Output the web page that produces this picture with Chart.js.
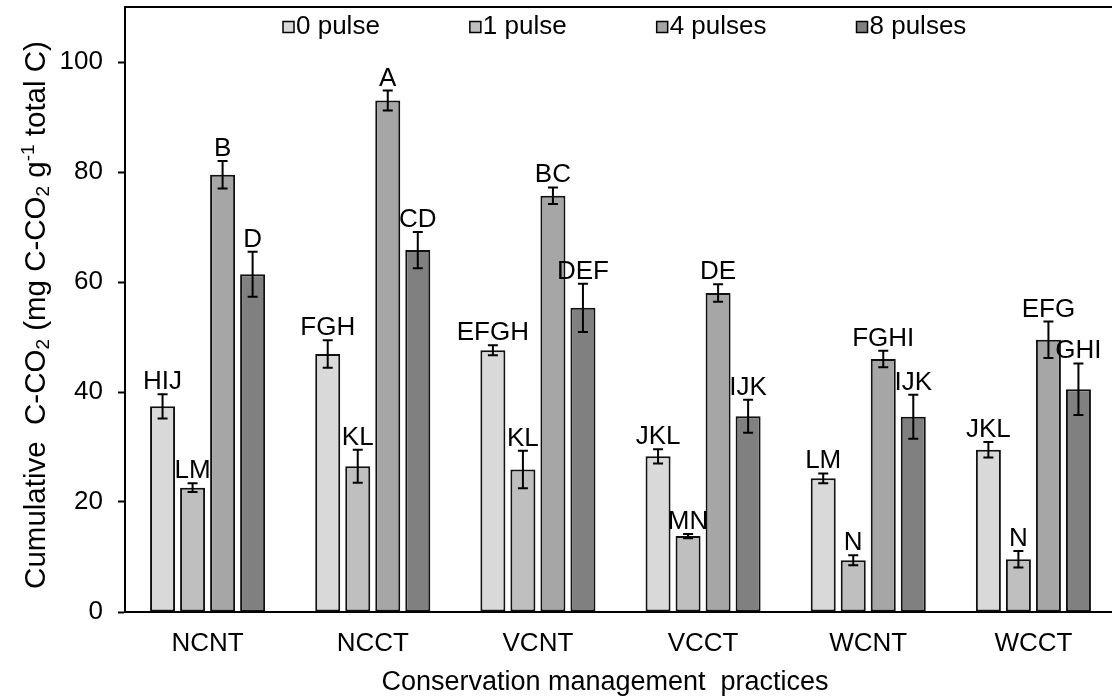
<!DOCTYPE html>
<html><head><meta charset="utf-8">
<script src="https://cdn.jsdelivr.net/npm/chart.js@4.4.1/dist/chart.umd.min.js"></script>
<style>html,body{margin:0;padding:0;overflow:hidden;background:#fff;} canvas{display:block;}</style>
</head><body>
<canvas id="c" width="1116" height="700"></canvas>
<script>
const categories = ['NCNT','NCCT','VCNT','VCCT','WCNT','WCCT'];
const seriesNames = ['0 pulse','1 pulse','4 pulses','8 pulses'];
const pulse0 = [37.4, 46.9, 47.6, 28.3, 24.3, 29.5];
const pulse0Err = [2.2, 2.5, 0.9, 1.3, 0.9, 1.4];
const pulse1 = [22.6, 26.5, 25.9, 13.8, 9.4, 9.6];
const pulse1Err = [0.8, 3.0, 3.4, 0.4, 0.9, 1.5];
const pulse4 = [79.5, 93.0, 75.7, 58.0, 46.0, 49.5];
const pulse4Err = [2.5, 1.8, 1.5, 1.6, 1.5, 3.3];
const pulse8 = [61.4, 65.8, 55.3, 35.6, 35.5, 40.5];
const pulse8Err = [4.1, 3.3, 4.4, 3.0, 4.0, 4.7];
const letters0 = ['HIJ','FGH','EFGH','JKL','LM','JKL'];
const letters1 = ['LM','KL','KL','MN','N','N'];
const letters4 = ['B','A','BC','DE','FGHI','EFG'];
const letters8 = ['D','CD','DEF','IJK','IJK','GHI'];
const yTicks = [0, 20, 40, 60, 80, 100];
const xTitle = 'Conservation management  practices';

const FONT = "'Liberation Sans', Arial, sans-serif";
const fillColors = ['#d9d9d9', '#bfbfbf', '#a6a6a6', '#808080'];
const values = [pulse0, pulse1, pulse4, pulse8];
const errs = [pulse0Err, pulse1Err, pulse4Err, pulse8Err];
const letters = [letters0, letters1, letters4, letters8];

const datasets = seriesNames.map((name, i) => ({
  label: name,
  data: values[i],
  errors: errs[i],
  letters: letters[i],
  backgroundColor: fillColors[i],
  borderColor: '#111',
  borderWidth: 2,
  borderSkipped: false,
  categoryPercentage: 0.727,
  barPercentage: 0.833
}));

const errorBarPlugin = {
  id: 'errorBars',
  afterDatasetsDraw(chart) {
    const ctx = chart.ctx, y = chart.scales.y;
    ctx.save();
    ctx.strokeStyle = '#000';
    ctx.lineWidth = 2;
    ctx.fillStyle = '#000';
    ctx.font = '26px ' + FONT;
    ctx.textAlign = 'center';
    ctx.textBaseline = 'alphabetic';
    chart.data.datasets.forEach((ds, di) => {
      const meta = chart.getDatasetMeta(di);
      meta.data.forEach((bar, i) => {
        const v = ds.data[i], e = ds.errors[i];
        const yt = y.getPixelForValue(v + e), yb = y.getPixelForValue(v - e);
        const x = bar.x;
        ctx.beginPath();
        ctx.moveTo(x, yt); ctx.lineTo(x, yb);
        ctx.moveTo(x - 5, yt); ctx.lineTo(x + 5, yt);
        ctx.moveTo(x - 5, yb); ctx.lineTo(x + 5, yb);
        ctx.stroke();
        ctx.fillText(ds.letters[i], x, yt - 5);
      });
    });
    ctx.restore();
  }
};

const framePlugin = {
  id: 'frame',
  afterDraw(chart) {
    const ctx = chart.ctx, a = chart.chartArea;
    ctx.save();
    ctx.strokeStyle = '#000';
    ctx.lineWidth = 2;
    ctx.beginPath();
    ctx.moveTo(a.left - 1, a.top);
    ctx.lineTo(chart.width, a.top);
    ctx.stroke();
    // x axis title
    ctx.fillStyle = '#000';
    ctx.font = '27px ' + FONT;
    ctx.textAlign = 'center';
    ctx.textBaseline = 'middle';
    ctx.fillText(xTitle, 605, 683);
    ctx.restore();
    // y axis title with sub/superscripts
    ctx.save();
    const runs = [
      ['Cumulative  C-CO', 0], ['2', 1], [' (mg C-CO', 0], ['2', 1], [' g', 0], ['-1', 2], [' total C)', 0]
    ];
    const base = 29.5, small = 19;
    let total = 0;
    runs.forEach(r => { ctx.font = (r[1] ? small : base) + 'px ' + FONT; total += ctx.measureText(r[0]).width; });
    ctx.translate(45, 315);
    ctx.rotate(-Math.PI / 2);
    ctx.fillStyle = '#000';
    ctx.textAlign = 'left';
    ctx.textBaseline = 'alphabetic';
    let x = -total / 2;
    runs.forEach(r => {
      ctx.font = (r[1] ? small : base) + 'px ' + FONT;
      const dy = r[1] === 1 ? 4 : (r[1] === 2 ? -11 : 0);
      ctx.fillText(r[0], x, dy);
      x += ctx.measureText(r[0]).width;
    });
    ctx.restore();
    // legend
    ctx.save();
    ctx.font = '26px ' + FONT;
    ctx.textBaseline = 'middle';
    ctx.textAlign = 'left';
    let lx = 283;
    const ly = 27;
    chart.data.datasets.forEach(ds => {
      ctx.fillStyle = ds.backgroundColor;
      ctx.fillRect(lx, ly - 5.5, 11, 11);
      ctx.strokeStyle = '#000';
      ctx.lineWidth = 1.5;
      ctx.strokeRect(lx, ly - 5.5, 11, 11);
      ctx.fillStyle = '#000';
      ctx.fillText(ds.label, lx + 13, ly);
      lx += 13 + ctx.measureText(ds.label).width + 90;
    });
    ctx.restore();
  }
};

new Chart(document.getElementById('c'), {
  type: 'bar',
  data: { labels: categories, datasets },
  plugins: [errorBarPlugin, framePlugin],
  options: {
    responsive: false,
    animation: false,
    layout: { padding: { top: 7, left: 0, right: 0, bottom: 0 }, autoPadding: false },
    plugins: { legend: { display: false }, tooltip: { enabled: false } },
    scales: {
      x: {
        grid: { display: false, drawTicks: false },
        border: { display: true, color: '#000', width: 2 },
        ticks: { font: { family: FONT, size: 26 }, color: '#000', padding: 16 },
        afterFit(s) { s.height = 88; s.paddingLeft = 0; s.paddingRight = 0; }
      },
      y: {
        min: 0, max: 110,
        afterBuildTicks(s) { s.ticks = yTicks.map(v => ({ value: v })); },
        grid: { display: true, drawOnChartArea: false, drawTicks: true, tickLength: 7, tickWidth: 2, tickColor: '#000' },
        border: { display: true, color: '#000', width: 2 },
        ticks: { font: { family: FONT, size: 26 }, color: '#000', padding: 15 },
        afterFit(s) { s.width = 125; s.paddingTop = 0; s.paddingBottom = 0; }
      }
    }
  }
});
</script>
</body></html>
